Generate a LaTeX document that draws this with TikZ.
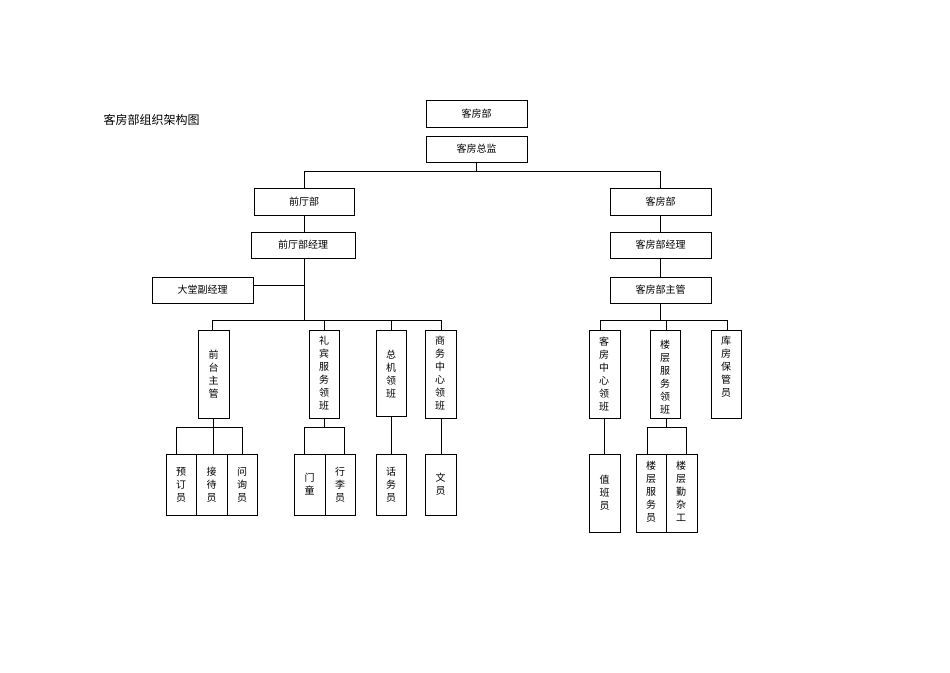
\documentclass[tikz,border=0pt]{standalone}
\usepackage{fontspec}
\setmainfont{Noto Sans CJK SC}
\begin{document}
\begin{tikzpicture}[x=1pt,y=-1pt,
  bx/.style={draw,line width=0.8pt,fill=white},
  ln/.style={line width=0.8pt},
  t/.style={font=\fontsize{10}{13}\selectfont,align=center}]
\useasboundingbox (0,0) rectangle (950,672);
\newcommand\bxx[6]{\draw[bx] (#2,#3) rectangle (#4,#5); \node[t] (#1) at ({(#2+#4)/2},{(#3+#5)/2}) {#6};}
\node[font=\fontsize{12}{14}\selectfont,anchor=west] (title) at (100,120) {客房部组织架构图};
% lines
\draw[ln] (476,162)--(476,171) (304,171)--(660,171) (304,171)--(304,188) (660,171)--(660,188);
\draw[ln] (304,215)--(304,232) (660,215)--(660,232) (660,258)--(660,277);
\draw[ln] (304,258)--(304,320) (253,285)--(304,285) (212,320)--(441,320);
\foreach \x in {212,324,391,441}{\draw[ln] (\x,320)--(\x,330);}
\draw[ln] (213,418)--(213,454) (176,427)--(242,427) (176,427)--(176,454) (242,427)--(242,454);
\draw[ln] (324,418)--(324,427) (304,427)--(344,427) (304,427)--(304,454) (344,427)--(344,454);
\draw[ln] (391,416)--(391,454) (441,418)--(441,454);
\draw[ln] (660,303)--(660,320) (600,320)--(727,320);
\foreach \x in {600,666,727}{\draw[ln] (\x,320)--(\x,330);}
\draw[ln] (604,418)--(604,454) (666,418)--(666,427) (647,427)--(686,427) (647,427)--(647,454) (686,427)--(686,454);
% boxes
\bxx{a}{426}{100}{527}{127}{客房部}
\bxx{b}{426}{136}{527}{162}{客房总监}
\bxx{c}{254}{188}{354}{215}{前厅部}
\bxx{d}{251}{232}{355}{258}{前厅部经理}
\bxx{e}{610}{188}{711}{215}{客房部}
\bxx{f}{610}{232}{711}{258}{客房部经理}
\bxx{g}{610}{277}{711}{303}{客房部主管}
\bxx{h}{152}{277}{253}{303}{大堂副经理}
\bxx{i}{198}{330}{229}{418}{前\\台\\主\\管}
\draw[bx] (309,330) rectangle (339,418); \node[t,anchor=north] (j) at (324,333) {礼\\宾\\服\\务\\领\\班};
\draw[bx] (376,330) rectangle (406,416); \node[t,anchor=north] (k) at (391,347) {总\\机\\领\\班};
\draw[bx] (425,330) rectangle (456,418); \node[t,anchor=north] (l) at (440,333) {商\\务\\中\\心\\领\\班};
\bxx{m}{166}{454}{196}{515}{预\\订\\员}
\bxx{n}{196}{454}{227}{515}{接\\待\\员}
\bxx{o}{227}{454}{257}{515}{问\\询\\员}
\bxx{p}{294}{454}{325}{515}{门\\童}
\bxx{q}{325}{454}{355}{515}{行\\李\\员}
\bxx{r}{376}{454}{406}{515}{话\\务\\员}
\bxx{s}{425}{454}{456}{515}{文\\员}
\draw[bx] (589,330) rectangle (620,418); \node[t,anchor=north] (u) at (604,333) {客\\房\\中\\心\\领\\班};
\draw[bx] (650,330) rectangle (680,418); \node[t,anchor=north] (v) at (665,337) {楼\\层\\服\\务\\领\\班};
\draw[bx] (711,330) rectangle (741,418); \node[t,anchor=north] (w) at (726,333) {库\\房\\保\\管\\员};
\bxx{x}{589}{454}{620}{532}{值\\班\\员}
\draw[bx] (636,454) rectangle (666,532); \node[t,anchor=north] (y) at (651,458) {楼\\层\\服\\务\\员};
\draw[bx] (666,454) rectangle (697,532); \node[t,anchor=north] (z) at (681,458) {楼\\层\\勤\\杂\\工};
\end{tikzpicture}
\end{document}
